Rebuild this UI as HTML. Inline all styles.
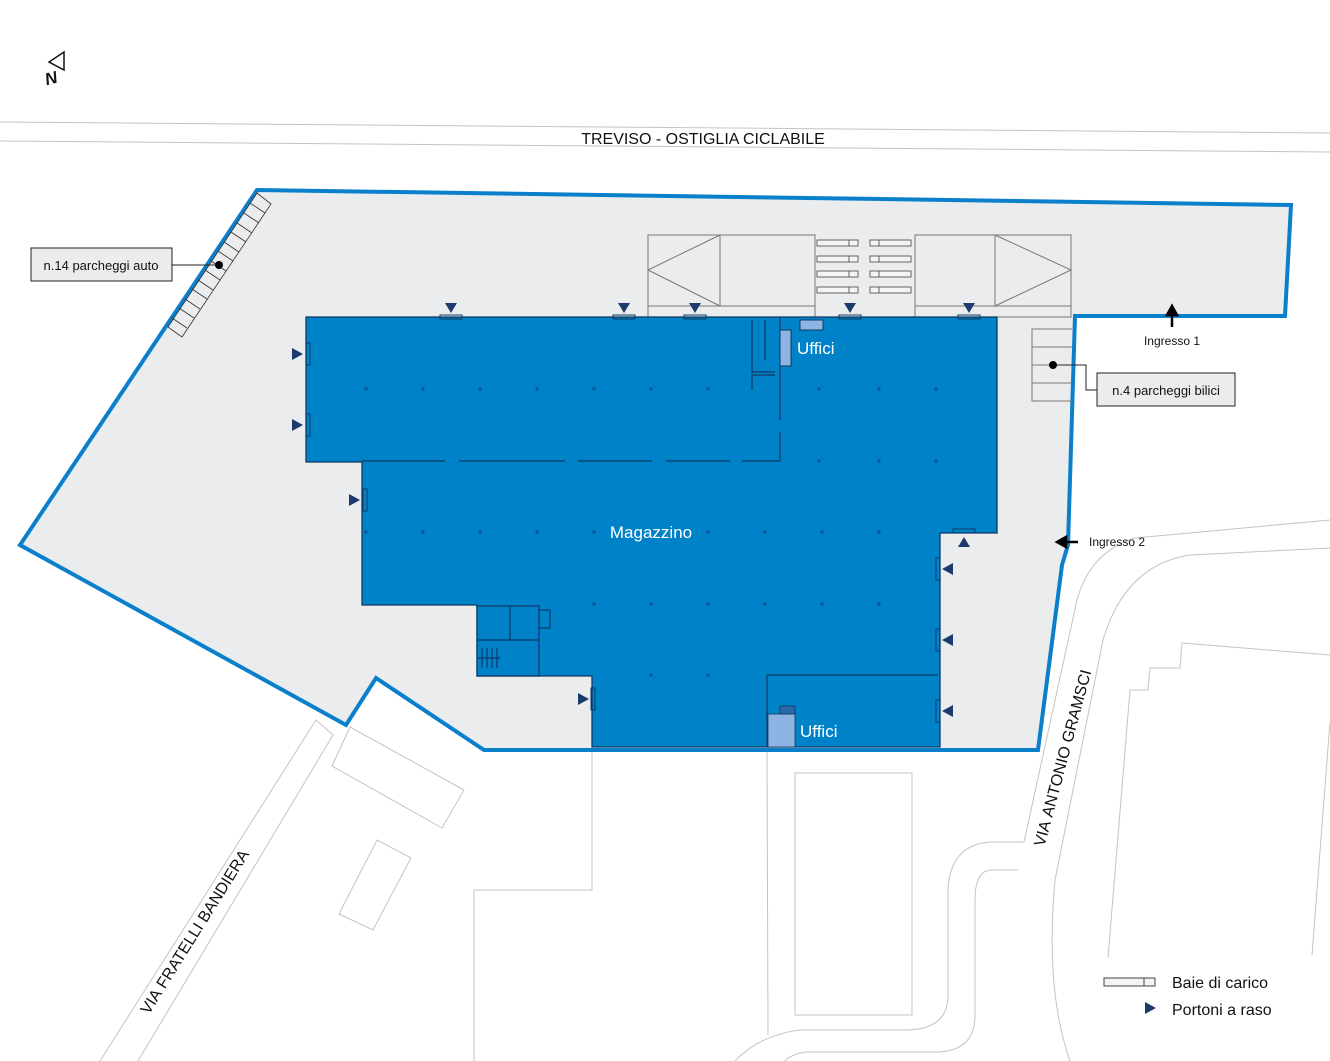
<!DOCTYPE html>
<html><head><meta charset="utf-8"><style>
html,body{margin:0;padding:0;background:#fff;width:1330px;height:1061px;overflow:hidden}
svg{display:block}
text{font-family:"Liberation Sans",sans-serif}
</style></head><body>
<svg width="1330" height="1061" viewBox="0 0 1330 1061" xmlns="http://www.w3.org/2000/svg">
<!-- top road -->
<g stroke="#c4c4c4" stroke-width="1" fill="none">
<line x1="0" y1="122" x2="1330" y2="133"/>
<line x1="0" y1="141" x2="1330" y2="152"/>
</g>
<text x="703" y="144" font-size="16" text-anchor="middle" fill="#111">TREVISO - OSTIGLIA CICLABILE</text>

<!-- north -->
<path d="M64,52 L49,62 L64,70 Z" fill="none" stroke="#111" stroke-width="1.5"/>
<text x="51" y="84" font-size="17" font-style="italic" font-weight="bold" fill="#111" transform="rotate(-15 51 78)" text-anchor="middle">N</text>

<!-- surrounding thin lines -->
<g stroke="#c4c4c4" stroke-width="1" fill="none">
<polyline points="592,750 592,890 474,890 474,1061"/>
<polyline points="767,750 768,1035"/>
<rect x="795" y="773" width="117" height="242"/>
<path d="M1024,842 L1077,600 Q1090,552 1135,538 L1330,520"/>
<path d="M1070,1061 Q1045,990 1055,880 L1103,640 Q1125,565 1190,555 L1330,548"/>
<path d="M1024,842 L990,842 Q950,845 948,890 L948,995 Q948,1030 905,1030 L800,1030 Q760,1035 735,1061"/>
<path d="M1018,870 L990,870 Q975,872 975,900 L975,1015 Q975,1052 935,1052 L805,1052 Q790,1055 785,1061"/>
<polyline points="1108,958 1130,690 1148,690 1150,668 1180,668 1182,643 1330,655"/>
<polyline points="1330,722 1312,955"/>
<polyline points="100,1061 316,720 333,735 138,1061"/>
<polygon points="350,727 464,790 442,828 332,766"/>
<polygon points="377,840 411,858 373,930 339,914"/>
</g>
<text x="195" y="937" font-size="16" fill="#111" text-anchor="middle" transform="rotate(-58 195 932)">VIA&#160;FRATELLI&#160;BANDIERA</text>
<text x="1063" y="763" font-size="16" fill="#111" text-anchor="middle" transform="rotate(-75 1063 758)">VIA&#160;ANTONIO&#160;GRAMSCI</text>

<!-- site -->
<polygon points="257,190 1291,205 1285,316 1075,316 1068,545 1062,565 1038,750 484,750 376,678 346,725 20,545" fill="#ebeced" stroke="#0a7fcb" stroke-width="4" stroke-linejoin="miter"/>

<!-- car parking -->
<g stroke="#333" stroke-width="0.8" fill="none">
<polygon points="257,193 271,204 182,337 168,327"/>
</g>
<g stroke="#333" stroke-width="0.8">
<line x1="250" y1="203" x2="265" y2="213"/>
<line x1="244" y1="213" x2="259" y2="223"/>
<line x1="237" y1="223" x2="252" y2="233"/>
<line x1="231" y1="232" x2="246" y2="242"/>
<line x1="224" y1="242" x2="239" y2="252"/>
<line x1="218" y1="251" x2="233" y2="261"/>
<line x1="211" y1="261" x2="226" y2="271"/>
<line x1="205" y1="270" x2="220" y2="280"/>
<line x1="198" y1="280" x2="213" y2="290"/>
<line x1="192" y1="289" x2="207" y2="299"/>
<line x1="185" y1="299" x2="200" y2="309"/>
<line x1="179" y1="308" x2="194" y2="318"/>
<line x1="172" y1="318" x2="187" y2="328"/>
</g>
<rect x="31" y="248" width="141" height="33" fill="#ebeced" stroke="#222" stroke-width="1"/>
<text x="101" y="270" font-size="13" text-anchor="middle" fill="#111">n.14 parcheggi auto</text>
<line x1="172" y1="265" x2="219" y2="265" stroke="#222" stroke-width="1"/>
<circle cx="219" cy="265" r="4" fill="#000"/>

<!-- truck areas -->
<g stroke="#777" stroke-width="1" fill="none">
<rect x="648" y="235" width="167" height="82"/>
<line x1="648" y1="306" x2="815" y2="306"/>
<line x1="720" y1="235" x2="720" y2="306"/>
<polyline points="720,235 648,270 720,306"/>
<rect x="915" y="235" width="156" height="82"/>
<line x1="915" y1="306" x2="1071" y2="306"/>
<line x1="995" y1="235" x2="995" y2="306"/>
<polyline points="995,235 1071,270 995,306"/>
</g>
<g stroke="#555" stroke-width="0.9" fill="#f4f4f4">
<rect x="817" y="240" width="32" height="6"/><rect x="849" y="240" width="9" height="6"/>
<rect x="817" y="256" width="32" height="6"/><rect x="849" y="256" width="9" height="6"/>
<rect x="817" y="271" width="32" height="6"/><rect x="849" y="271" width="9" height="6"/>
<rect x="817" y="287" width="32" height="6"/><rect x="849" y="287" width="9" height="6"/>
<rect x="870" y="240" width="9" height="6"/><rect x="879" y="240" width="32" height="6"/>
<rect x="870" y="256" width="9" height="6"/><rect x="879" y="256" width="32" height="6"/>
<rect x="870" y="271" width="9" height="6"/><rect x="879" y="271" width="32" height="6"/>
<rect x="870" y="287" width="9" height="6"/><rect x="879" y="287" width="32" height="6"/>
</g>

<!-- bilici parking -->
<g stroke="#777" stroke-width="1" fill="none">
<polyline points="1072,329 1032,329 1032,401 1072,401"/>
<line x1="1032" y1="347" x2="1072" y2="347"/>
<line x1="1032" y1="365" x2="1072" y2="365"/>
<line x1="1032" y1="383" x2="1072" y2="383"/>
</g>
<polyline points="1053,365 1086,365 1086,390 1097,390" fill="none" stroke="#222" stroke-width="1"/>
<circle cx="1053" cy="365" r="4" fill="#000"/>
<rect x="1097" y="373" width="138" height="33" fill="#ebeced" stroke="#222" stroke-width="1"/>
<text x="1166" y="395" font-size="13" text-anchor="middle" fill="#111">n.4 parcheggi bilici</text>

<!-- building -->
<polygon points="306,317 997,317 997,533 940,533 940,747 592,747 592,676 477,676 477,605 362,605 362,462 306,462" fill="#0082c8" stroke="#0d3a66" stroke-width="1.3"/>
<g stroke="#0d3a66" stroke-width="1.2" fill="none">
<line x1="362" y1="461" x2="445" y2="461"/><line x1="459" y1="461" x2="565" y2="461"/><line x1="578" y1="461" x2="652" y2="461"/><line x1="666" y1="461" x2="730" y2="461"/><line x1="742" y1="461" x2="780" y2="461"/>
<line x1="780" y1="318" x2="780" y2="420"/><line x1="780" y1="432" x2="780" y2="461"/>
<polyline points="752,320 752,372 775,372"/><polyline points="752,390 752,375 775,375"/>
<line x1="765" y1="320" x2="765" y2="360"/>
<rect x="477" y="606" width="62" height="70"/>
<line x1="510" y1="606" x2="510" y2="640"/><line x1="477" y1="640" x2="539" y2="640"/>
<line x1="482" y1="648" x2="482" y2="668"/><line x1="487" y1="648" x2="487" y2="668"/><line x1="492" y1="648" x2="492" y2="668"/><line x1="497" y1="648" x2="497" y2="668"/>
<line x1="478" y1="658" x2="500" y2="658"/>
<rect x="539" y="610" width="11" height="18"/>
<polyline points="767,747 767,675 938,675"/>
</g>
<rect x="800" y="320" width="23" height="10" fill="#8db4e2" stroke="#0d3a66" stroke-width="1"/>
<rect x="780" y="330" width="11" height="36" fill="#8db4e2" stroke="#0d3a66" stroke-width="1"/>
<rect x="768" y="714" width="27" height="33" fill="#8db4e2" stroke="#0d3a66" stroke-width="0.8"/>
<rect x="780" y="706" width="15" height="8" fill="#2a6aa8" stroke="#0d3a66" stroke-width="0.8"/>
<!-- grid dots -->
<g fill="none" stroke="#0d3a66" stroke-width="0.7">
<rect x="365" y="388" width="2" height="2"/><rect x="422" y="388" width="2" height="2"/><rect x="479" y="388" width="2" height="2"/><rect x="536" y="388" width="2" height="2"/><rect x="593" y="388" width="2" height="2"/><rect x="650" y="388" width="2" height="2"/><rect x="707" y="388" width="2" height="2"/><rect x="818" y="388" width="2" height="2"/><rect x="878" y="388" width="2" height="2"/><rect x="935" y="388" width="2" height="2"/>
<rect x="818" y="460" width="2" height="2"/><rect x="878" y="460" width="2" height="2"/><rect x="935" y="460" width="2" height="2"/>
<rect x="365" y="531" width="2" height="2"/><rect x="422" y="531" width="2" height="2"/><rect x="479" y="531" width="2" height="2"/><rect x="536" y="531" width="2" height="2"/><rect x="593" y="531" width="2" height="2"/><rect x="707" y="531" width="2" height="2"/><rect x="764" y="531" width="2" height="2"/><rect x="821" y="531" width="2" height="2"/><rect x="878" y="531" width="2" height="2"/>
<rect x="593" y="603" width="2" height="2"/><rect x="650" y="603" width="2" height="2"/><rect x="707" y="603" width="2" height="2"/><rect x="764" y="603" width="2" height="2"/><rect x="821" y="603" width="2" height="2"/><rect x="878" y="603" width="2" height="2"/>
<rect x="650" y="674" width="2" height="2"/><rect x="707" y="674" width="2" height="2"/>
</g>
<text x="651" y="538" font-size="17" fill="#fff" text-anchor="middle">Magazzino</text>
<text x="797" y="354" font-size="17" fill="#fff">Uffici</text>
<text x="800" y="737" font-size="17" fill="#fff">Uffici</text>

<!-- dock markers -->
<g fill="#1c3a6b">
<path d="M445,303 L457,303 L451,313 Z"/><path d="M618,303 L630,303 L624,313 Z"/><path d="M689,303 L701,303 L695,313 Z"/><path d="M844,303 L856,303 L850,313 Z"/><path d="M963,303 L975,303 L969,313 Z"/>
<path d="M292,348 L303,354 L292,360 Z"/><path d="M292,419 L303,425 L292,431 Z"/><path d="M349,494 L360,500 L349,506 Z"/><path d="M578,693 L589,699 L578,705 Z"/>
<path d="M953,563 L942,569 L953,575 Z"/><path d="M953,634 L942,640 L953,646 Z"/><path d="M953,705 L942,711 L953,717 Z"/>
<path d="M958,547 L970,547 L964,537 Z"/>
</g>
<g fill="none" stroke="#0d3a66" stroke-width="1">
<rect x="440" y="315" width="22" height="4"/><rect x="613" y="315" width="22" height="4"/><rect x="684" y="315" width="22" height="4"/><rect x="839" y="315" width="22" height="4"/><rect x="958" y="315" width="22" height="4"/>
<rect x="306" y="343" width="4" height="22"/><rect x="306" y="414" width="4" height="22"/><rect x="363" y="489" width="4" height="22"/><rect x="591" y="688" width="4" height="22"/>
<rect x="936" y="558" width="4" height="22"/><rect x="936" y="629" width="4" height="22"/><rect x="936" y="700" width="4" height="22"/>
<rect x="953" y="529" width="22" height="4"/>
</g>

<!-- entrances -->
<path d="M1172,327 L1172,312 M1167,315 L1172,306 L1177,315 Z" stroke="#000" stroke-width="2.5" fill="#000"/>
<text x="1172" y="345" font-size="12" text-anchor="middle" fill="#111">Ingresso 1</text>
<path d="M1078,542 L1063,542 M1066,537 L1057,542 L1066,547 Z" stroke="#000" stroke-width="2.5" fill="#000"/>
<text x="1089" y="546" font-size="12" fill="#111">Ingresso 2</text>

<!-- legend -->
<rect x="1104" y="978" width="40" height="8" fill="#f4f4f4" stroke="#444" stroke-width="1"/>
<rect x="1144" y="978" width="11" height="8" fill="#f4f4f4" stroke="#444" stroke-width="1"/>
<text x="1172" y="988" font-size="16" fill="#111">Baie di carico</text>
<path d="M1145,1002 L1156,1008 L1145,1014 Z" fill="#1c3a6b"/>
<text x="1172" y="1015" font-size="16" fill="#111">Portoni a raso</text>
</svg>
</body></html>
